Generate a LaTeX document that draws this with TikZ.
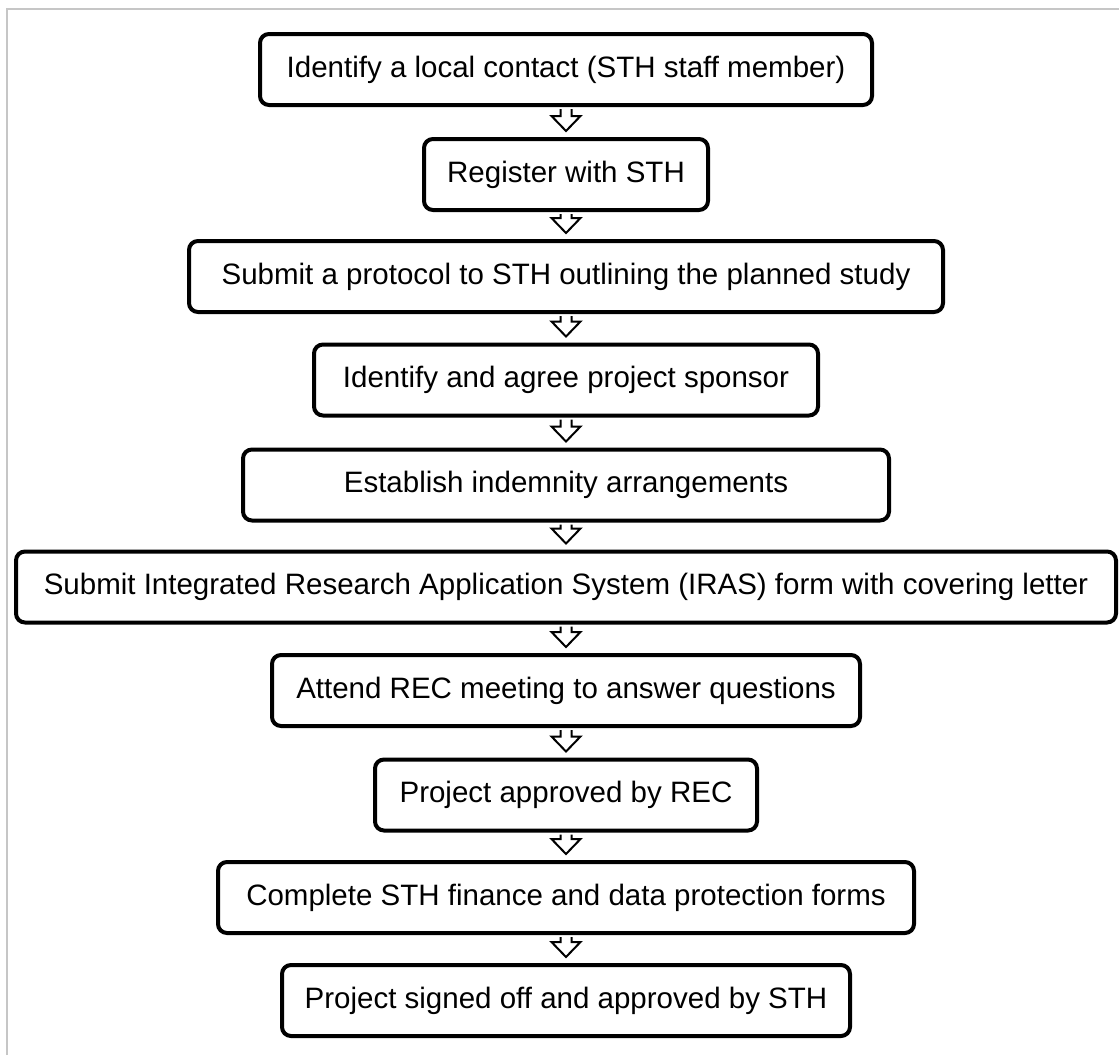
\documentclass[tikz,border=0pt]{standalone}
\usepackage{fontspec}
\setmainfont{Liberation Sans}
\usetikzlibrary{calc}
\begin{document}
\begin{tikzpicture}[x=1pt,y=-1pt,
  stepbox/.style={draw=black, line width=4pt, rounded corners=9pt, fill=white,
    minimum height=71pt, inner sep=0pt, font=\fontsize{29.5}{35}\selectfont, text=black},
  harrow/.style={draw=black, fill=white, line width=2pt, line join=miter}]
\useasboundingbox (0,0) rectangle (1119,1055);
\draw[gray!45, line width=2pt] (7,1055) -- (7,9) -- (1119,9);
\node[stepbox, minimum width=612pt] (n1) at (566,69.5) {Identify a local contact (STH staff member)};
\node[stepbox, minimum width=284pt] (n2) at (566,174.5) {Register with STH};
\node[stepbox, minimum width=754pt] (n3) at (566,276.5) {Submit a protocol to STH outlining the planned study};
\node[stepbox, minimum width=504pt] (n4) at (566,380) {Identify and agree project sponsor};
\node[stepbox, minimum width=646pt] (n5) at (566,485) {Establish indemnity arrangements};
\node[stepbox, minimum width=1100pt] (n6) at (566,587) {Submit Integrated Research Application System (IRAS) form with covering letter};
\node[stepbox, minimum width=588pt] (n7) at (566,690.5) {Attend REC meeting to answer questions};
\node[stepbox, minimum width=382pt] (n8) at (566,795) {Project approved by REC};
\node[stepbox, minimum width=696pt] (n9) at (566,897.5) {Complete STH finance and data protection forms};
\node[stepbox, minimum width=568pt] (n10) at (566,1000.5) {Project signed off and approved by STH};
\foreach \a/\b in {n1/n2,n2/n3,n3/n4,n4/n5,n5/n6,n6/n7,n7/n8,n8/n9,n9/n10}
  \draw[harrow] let \p1=(\a.south), \p2=(\b.north) in
    (\x1-5.5pt,\y1-2pt) -- (\x1-5.5pt,\y2+21pt) -- (\x1-14.5pt,\y2+21pt) -- (\x1,\y2+6pt)
    -- (\x1+14.5pt,\y2+21pt) -- (\x1+5.5pt,\y2+21pt) -- (\x1+5.5pt,\y1-2pt);
\end{tikzpicture}
\end{document}
